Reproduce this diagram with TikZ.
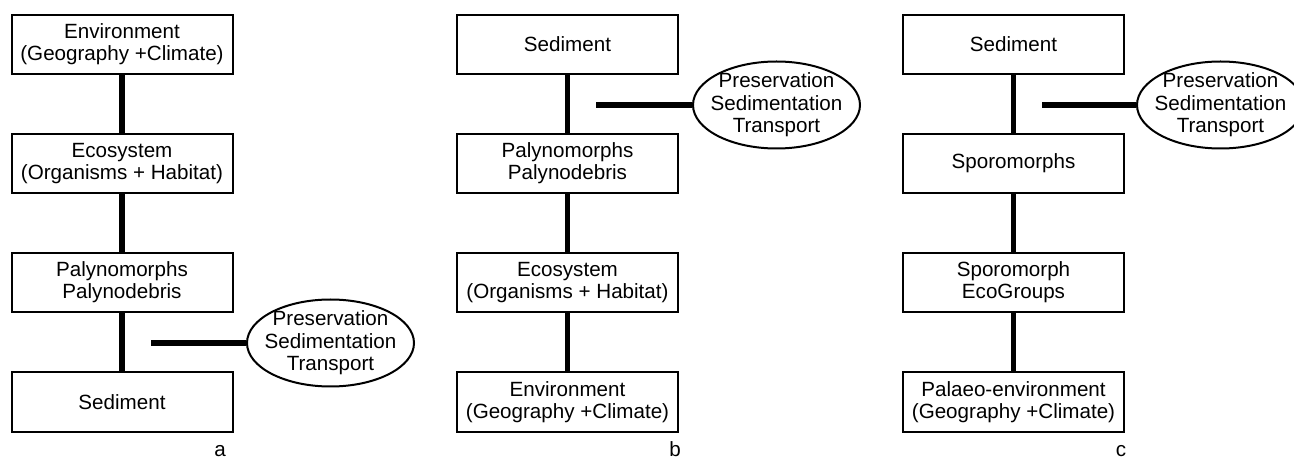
\documentclass[tikz,border=0pt]{standalone}
\usepackage{fontspec}
\setmainfont{Liberation Sans}
\usetikzlibrary{shapes.geometric}
\begin{document}
\begin{tikzpicture}[x=1pt,y=-1pt,
  box/.style={draw, line width=2pt, minimum width=221pt, minimum height=59pt, inner sep=1pt, align=center, font=\fontsize{20.6}{22}\selectfont},
  oval/.style={draw, ellipse, line width=2pt, minimum width=167pt, minimum height=87pt, inner sep=0pt},
  ovaltext/.style={align=center, inner sep=0pt, font=\fontsize{20.6}{22.5}\selectfont},
  conn/.style={line width=5.5pt},
  panel/.style={font=\fontsize{20.6}{22}\selectfont, inner sep=0pt, anchor=base}]
\useasboundingbox (0,0) rectangle (1294,462);
% panel a
\node[box] (a1) at (122,44.5) {Environment\\(Geography +Climate)};
\node[box] (a2) at (122,163.5) {Ecosystem\\(Organisms + Habitat)};
\node[box] (a3) at (122,282.5) {Palynomorphs\\Palynodebris};
\node[box] (a4) at (122,402) {Sediment};
\draw[conn] (a1.south) -- (a2.north);
\draw[conn] (a2.south) -- (a3.north);
\draw[conn] (a3.south) -- (a4.north);
\node[oval] (ea) at (330.5,343) {};
\node[ovaltext] (ta) at (ea.center) {Preservation\\Sedimentation\\Transport};
\coordinate (ha) at (151,343);
\draw[conn] (ha) -- (ea.west);
\node[panel] (la) at (220,456) {a};
% panel b
\node[box] (b1) at (567.5,44.5) {Sediment};
\node[box] (b2) at (567.5,163.5) {Palynomorphs\\Palynodebris};
\node[box] (b3) at (567.5,282.5) {Ecosystem\\(Organisms + Habitat)};
\node[box] (b4) at (567.5,402) {Environment\\(Geography +Climate)};
\draw[conn] (b1.south) -- (b2.north);
\draw[conn] (b2.south) -- (b3.north);
\draw[conn] (b3.south) -- (b4.north);
\node[oval] (eb) at (776.5,105) {};
\node[ovaltext] (tb) at (eb.center) {Preservation\\Sedimentation\\Transport};
\coordinate (hb) at (596,105);
\draw[conn] (hb) -- (eb.west);
\node[panel] (lb) at (675,456) {b};
% panel c
\node[box] (c1) at (1013.5,44.5) {Sediment};
\node[box] (c2) at (1013.5,163.5) {Sporomorphs};
\node[box] (c3) at (1013.5,282.5) {Sporomorph\\EcoGroups};
\node[box] (c4) at (1013.5,402) {Palaeo-environment\\(Geography +Climate)};
\draw[conn] (c1.south) -- (c2.north);
\draw[conn] (c2.south) -- (c3.north);
\draw[conn] (c3.south) -- (c4.north);
\node[oval] (ec) at (1220.5,105) {};
\node[ovaltext] (tc) at (ec.center) {Preservation\\Sedimentation\\Transport};
\coordinate (hc) at (1042,105);
\draw[conn] (hc) -- (ec.west);
\node[panel] (lc) at (1121,456) {c};
\end{tikzpicture}
\end{document}
